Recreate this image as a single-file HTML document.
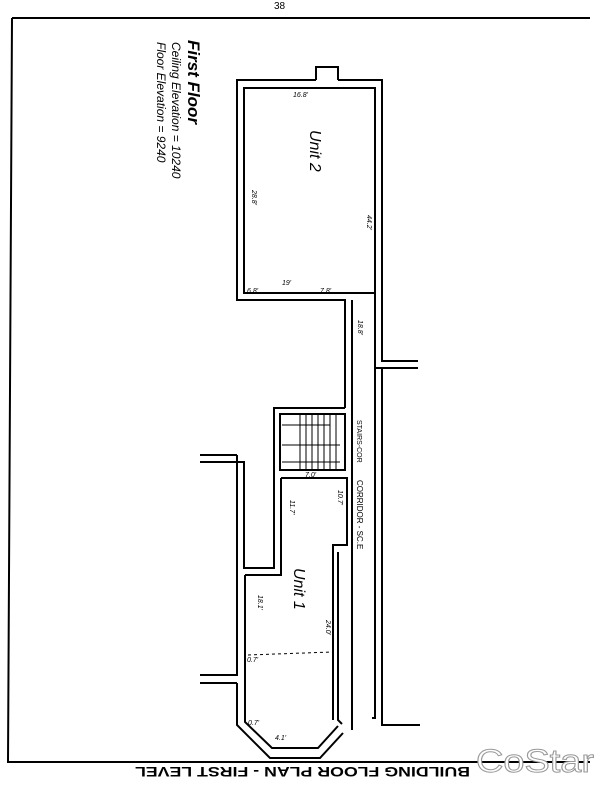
<!DOCTYPE html>
<html><head><meta charset="utf-8"><style>
html,body{margin:0;padding:0;background:#fff;}
svg{display:block}
text{font-family:"Liberation Sans",sans-serif;}
</style></head><body>
<svg width="604" height="795" viewBox="0 0 604 795" xmlns="http://www.w3.org/2000/svg">
<g fill="none" stroke="#000" stroke-width="2">
<polyline points="12,18 590,18"/>
<polyline points="12,18 8,762 590,762"/>
<polyline points="316,80 237,80 237,300 345,300 345,408"/>
<polyline points="338,80 382,80 382,361 418,361"/>
<polyline points="316,80 316,67 338,67 338,80"/>
<rect x="244" y="88" width="131" height="205"/>
<polyline points="375,293 375,368 418,368"/>
<polyline points="352,300 352,730"/>
<polyline points="382,368 382,725 420,725"/>
<polyline points="375,368 375,718 372,718"/>
<polyline points="345,408 274,408 274,568 244,568 244,462 200,462"/>
<polyline points="237,455 200,455"/>
<polyline points="237,455 237,570"/>
<rect x="280" y="414" width="65" height="56"/>
<polyline points="281,478 281,575 245,575"/>
<polyline points="281,478 347,478 347,545 333,545 333,720"/>
<polyline points="338,552 338,720 342,724"/>
<polyline points="237,570 237,675 200,675"/>
<polyline points="237,683 200,683"/>
<polyline points="237,683 237,725 270,758 320,758 343,733"/>
<polyline points="245,575 245,722 272,748 318,748 338,726"/>
</g>
<g stroke="#000" stroke-width="1" fill="none">
<line x1="282" y1="425" x2="330" y2="425"/>
<line x1="282" y1="445" x2="340" y2="445"/>
<line x1="282" y1="462" x2="340" y2="462"/>
<line x1="300" y1="414" x2="300" y2="470"/>
<line x1="306" y1="414" x2="306" y2="470"/>
<line x1="312" y1="414" x2="312" y2="470"/>
<line x1="318" y1="414" x2="318" y2="470"/>
<line x1="324" y1="414" x2="324" y2="470"/>
<line x1="330" y1="414" x2="330" y2="470"/>
<line x1="336" y1="414" x2="336" y2="470"/>
<line x1="248" y1="655" x2="332" y2="652" stroke-dasharray="3,3"/>
</g>
<text transform="translate(188,40) rotate(90)" font-size="17" font-style="italic" font-weight="bold">First Floor</text>
<text transform="translate(172,42) rotate(90)" font-size="12" font-style="italic">Ceiling Elevation =  10240</text>
<text transform="translate(157,42) rotate(90)" font-size="12" font-style="italic">Floor Elevation =  9240</text>
<text transform="translate(310,130) rotate(90)" font-size="16" font-style="italic">Unit 2</text>
<text transform="translate(294,568) rotate(90)" font-size="16" font-style="italic">Unit 1</text>
<text transform="translate(357,420) rotate(90)" font-size="7">STAIRS-COR</text>
<text transform="translate(357,480) rotate(90)" font-size="8">CORRIDOR - SC.E</text>
<g font-size="7" font-style="italic">
<text x="293" y="97">16.8'</text>
<text x="247" y="293">6.8'</text>
<text x="320" y="293">7.8'</text>
<text x="282" y="285">19'</text>
<text x="305" y="477">7.0'</text>
<text x="247" y="662">0.7'</text>
<text x="248" y="725">0.7'</text>
<text x="275" y="740">4.1'</text>
</g>
<g font-size="7" font-style="italic" transform="rotate(90)">
<text x="190" y="-252">28.8'</text>
<text x="215" y="-367">44.2'</text>
<text x="320" y="-358">18.8'</text>
<text x="500" y="-290">11.7'</text>
<text x="490" y="-338">10.7'</text>
<text x="595" y="-258">18.1'</text>
<text x="620" y="-326">24.0'</text>
</g>
<text x="274" y="9" font-size="10">38</text>
<text transform="translate(470,767) scale(-1,-1)" font-size="14" font-family="Liberation Serif" font-weight="bold" textLength="335" lengthAdjust="spacingAndGlyphs">BUILDING FLOOR PLAN - FIRST LEVEL</text>
<text x="476" y="772" font-size="32" font-family="Liberation Serif" fill="#fff" stroke="#999" stroke-width="1" textLength="118" lengthAdjust="spacingAndGlyphs">CoStar</text>
</svg>
</body></html>
